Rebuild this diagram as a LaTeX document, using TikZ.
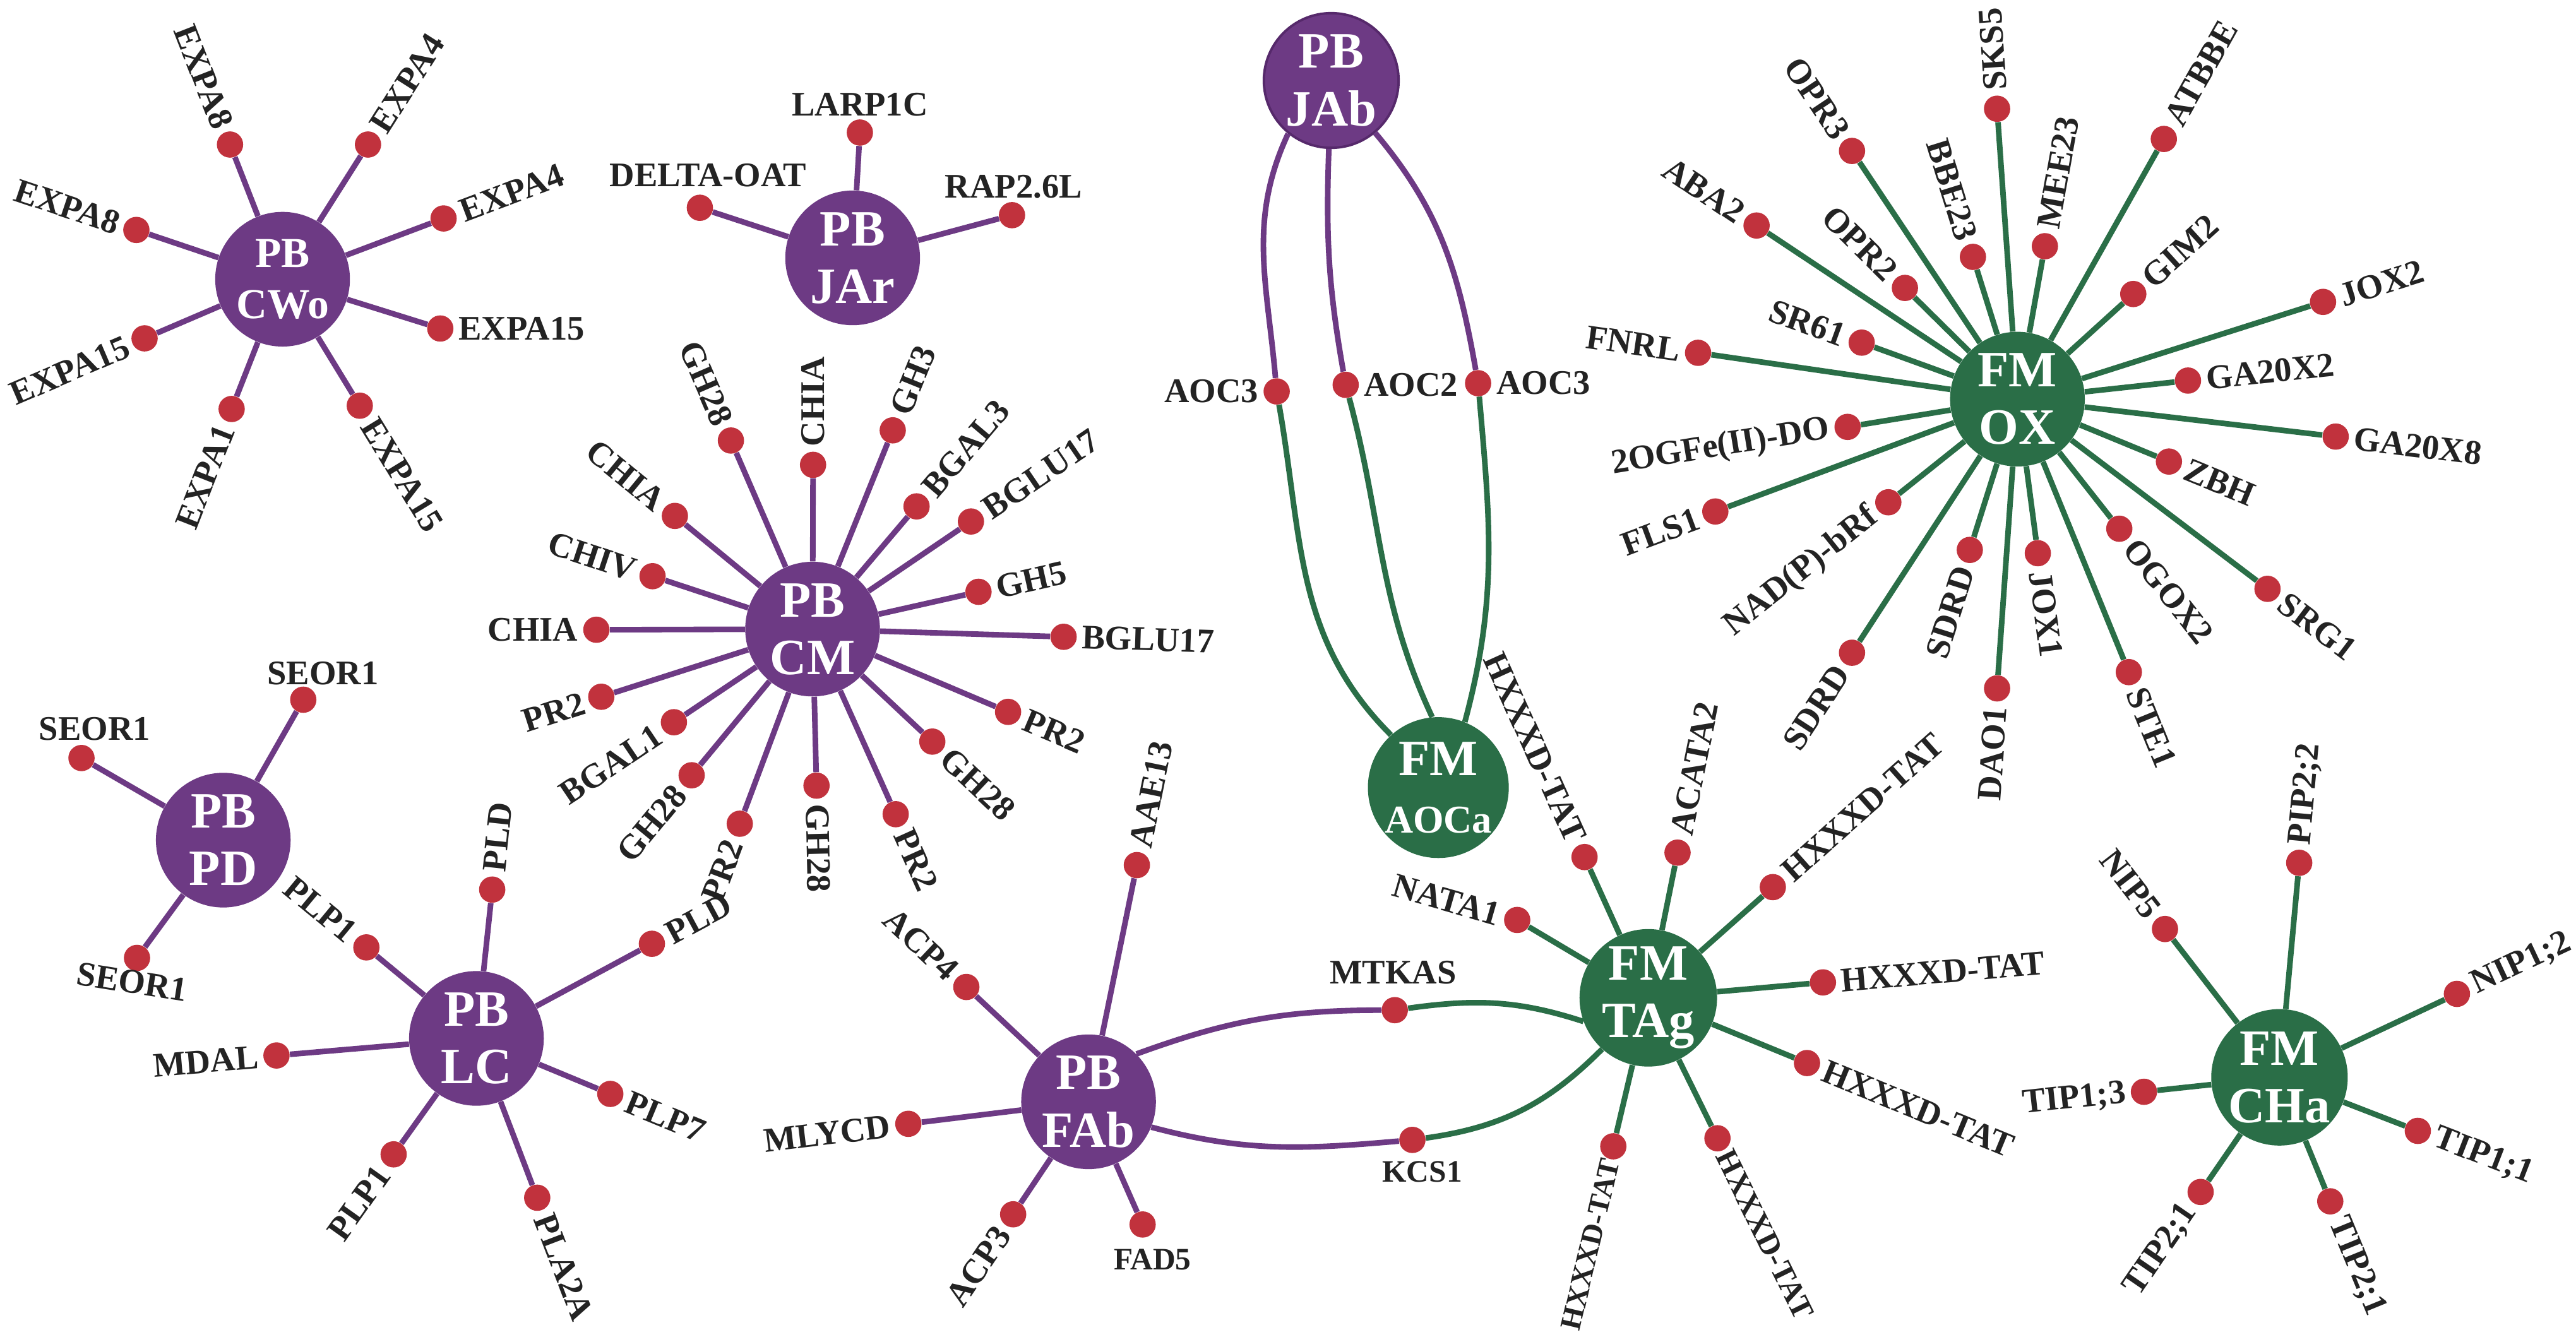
\documentclass[tikz,border=0pt]{standalone}
\usepackage{fontspec}
\setmainfont{Liberation Serif}
\usetikzlibrary{calc}
\definecolor{pbc}{HTML}{6D3A84}
\definecolor{pbdark}{HTML}{56296B}
\definecolor{fmc}{HTML}{2A6E47}
\definecolor{dotc}{HTML}{C1323D}
\definecolor{txtc}{HTML}{232323}
\tikzset{
  hub/.style={circle, minimum size=82pt, inner sep=0pt, text=white,
    font=\bfseries\fontsize{31}{35}\selectfont, align=center},
  pbhub/.style={hub, fill=pbc},
  fmhub/.style={hub, fill=fmc},
  dot/.style={circle, fill=dotc, minimum size=16pt, inner sep=0pt},
  lbl/.style={text=txtc, font=\bfseries\fontsize{21}{23}\selectfont, inner xsep=11pt, inner ysep=0pt},
  smalllbl/.style={font=\bfseries\fontsize{19}{21}\selectfont},
  pbln/.style={draw=pbc, line width=3.4pt},
  fmln/.style={draw=fmc, line width=3.4pt},
}
% radial spoke: #1 line style, #2 hub, #3 leaf name, #4 x, #5 y, #6 text
\newcommand\spk[6]{%
  \node[dot] (#3) at (#4,#5) {};
  \draw[#1] (#2) -- (#3);
  \pgfmathanglebetweenpoints{\pgfpointanchor{#2}{center}}{\pgfpointanchor{#3}{center}}%
  \let\spkang\pgfmathresult
  \pgfmathtruncatemacro\spkleft{and(\spkang>95,\spkang<269.5)}%
  \ifnum\spkleft=1
    \pgfmathsetmacro\spkrot{\spkang-180}%
    \node[lbl,rotate=\spkrot,anchor=east] (#3t) at (#3) {#6};
  \else
    \node[lbl,rotate=\spkang,anchor=west] (#3t) at (#3) {#6};
  \fi
}
% spoke with explicit label placement: #7 label options
\newcommand\spkx[7]{%
  \node[dot] (#3) at (#4,#5) {};
  \draw[#1] (#2) -- (#3);
  \node[lbl,#7] (#3t) at (#3) {#6};
}
\begin{document}
\begin{tikzpicture}[x=1pt,y=1pt]
\fill[white] (0,0) rectangle (1568,-817);
\useasboundingbox (0,0) rectangle (1568,-817);

% ---------------- PB CWo
\node[pbhub, font=\bfseries\fontsize{26}{31}\selectfont] (cwo) at (172,-170) {PB\\CWo};
\spk{pbln}{cwo}{cw1}{140}{-88}{EXPA8}
\spk{pbln}{cwo}{cw2}{224}{-88}{EXPA4}
\spk{pbln}{cwo}{cw3}{270}{-133}{EXPA4}
\spkx{pbln}{cwo}{cw4}{268}{-200}{EXPA15}{anchor=west}
\spk{pbln}{cwo}{cw5}{219}{-247}{EXPA15}
\spk{pbln}{cwo}{cw6}{141}{-249}{EXPA1}
\spk{pbln}{cwo}{cw7}{88}{-206}{EXPA15}
\spk{pbln}{cwo}{cw8}{83}{-140}{EXPA8}

% ---------------- PB JAr
\node[pbhub] (jar) at (519,-157) {PB\\JAr};
\spkx{pbln}{jar}{ja1}{523.4}{-80.7}{LARP1C}{anchor=base, yshift=10.3pt}
\spkx{pbln}{jar}{ja2}{426}{-126.5}{DELTA-OAT}{anchor=base, yshift=13.1pt, xshift=5pt}
\spkx{pbln}{jar}{ja3}{616}{-131}{RAP2.6L}{anchor=base, yshift=10.6pt, xshift=1pt}

% ---------------- PB CM
\node[pbhub] (cm) at (494.6,-383) {PB\\CM};
\spk{pbln}{cm}{cm1}{444.9}{-268.2}{GH28}
\spk{pbln}{cm}{cm2}{494.9}{-283}{CHIA}
\spk{pbln}{cm}{cm3}{543.4}{-262}{GH3}
\spk{pbln}{cm}{cm4}{557.9}{-308.3}{BGAL3}
\spk{pbln}{cm}{cm5}{591}{-317.5}{BGLU17}
\spk{pbln}{cm}{cm6}{595.6}{-360.3}{GH5}
\spk{pbln}{cm}{cm7}{647.4}{-387.7}{BGLU17}
\spk{pbln}{cm}{cm8}{613.6}{-433.4}{PR2}
\spk{pbln}{cm}{cm9}{567.5}{-451.5}{GH28}
\spk{pbln}{cm}{cm10}{545.2}{-495.7}{PR2}
\spk{pbln}{cm}{cm11}{497}{-478.3}{GH28}
\spk{pbln}{cm}{cm12}{450.3}{-501.5}{PR2}
\spk{pbln}{cm}{cm13}{421}{-472}{GH28}
\spk{pbln}{cm}{cm14}{410.2}{-439.7}{BGAL1}
\spk{pbln}{cm}{cm15}{366}{-424.2}{PR2}
\spk{pbln}{cm}{cm16}{363}{-383.4}{CHIA}
\spk{pbln}{cm}{cm17}{397.2}{-350.8}{CHIV}
\spk{pbln}{cm}{cm18}{410.8}{-314.1}{CHIA}

% ---------------- PB PD
\node[pbhub] (pd) at (135.9,-511.5) {PB\\PD};
\spkx{pbln}{pd}{pd1}{184.6}{-426}{SEOR1}{anchor=base, yshift=9.4pt, xshift=12pt}
\spkx{pbln}{pd}{pd2}{49.6}{-461.5}{SEOR1}{anchor=base, yshift=10.8pt, xshift=8pt}
\spkx{pbln}{pd}{pd3}{83.4}{-583.2}{SEOR1}{anchor=north, yshift=-7.5pt, xshift=-2pt, rotate=-9}

% ---------------- PB LC
\node[pbhub] (lc) at (290,-632.2) {PB\\LC};
\spk{pbln}{lc}{lc1}{299.6}{-541.6}{PLD}
\spk{pbln}{lc}{lc2}{223}{-576.8}{PLP1}
\spk{pbln}{lc}{lc3}{396.8}{-574.6}{PLD}
\spk{pbln}{lc}{lc4}{168.3}{-642.6}{MDAL}
\spk{pbln}{lc}{lc5}{371.5}{-666}{PLP7}
\spk{pbln}{lc}{lc6}{327}{-729.2}{PLA2A}
\spk{pbln}{lc}{lc7}{239.6}{-702.8}{PLP1}

% ---------------- PB FAb
\node[pbhub] (fab) at (662.6,-670.8) {PB\\FAb};
\spk{pbln}{fab}{fa1}{692}{-526.7}{AAE13}
\spk{pbln}{fab}{fa2}{588.2}{-600.9}{ACP4}
\spk{pbln}{fab}{fa3}{552.9}{-684.2}{MLYCD}
\spk{pbln}{fab}{fa4}{616.7}{-739.3}{ACP3}
\spkx{pbln}{fab}{fa5}{695.5}{-745.5}{FAD5}{smalllbl, anchor=north, yshift=-14.7pt, xshift=6pt}

% ---------------- FM TAg
\node[fmhub] (tag) at (1003.3,-607.5) {FM\\TAg};
\spk{fmln}{tag}{ta1}{964.5}{-521.8}{HXXXD-TAT}
\spk{fmln}{tag}{ta2}{1021.1}{-519.1}{ACATA2}
\spkx{fmln}{tag}{ta3}{923.5}{-560.1}{NATA1}{rotate=-16, anchor=east}
\spk{fmln}{tag}{ta4}{1079.1}{-540.1}{HXXXD-TAT}
\spk{fmln}{tag}{ta5}{1109.6}{-598.1}{HXXXD-TAT}
\spk{fmln}{tag}{ta6}{1099.9}{-647.2}{HXXXD-TAT}
\spkx{fmln}{tag}{ta7}{1045.4}{-693}{HXXXD-TAT}{smalllbl, rotate=-63.8, anchor=west, inner xsep=9pt}
\spkx{fmln}{tag}{ta8}{982}{-697.9}{HXXXD-TAT}{font=\bfseries\fontsize{18}{20}\selectfont, rotate=76.7, anchor=east, inner xsep=8pt}

% shared genes between FAb and TAg
\node[dot] (mtkas) at (849,-615) {};
\node[dot] (kcs) at (859.7,-694) {};
\draw[pbln] (fab.45) to[out=20,in=180] (mtkas);
\draw[fmln] (mtkas) to[out=8,in=162] (tag.200);
\draw[pbln] (fab.-22) to[out=-15,in=185] (kcs);
\draw[fmln] (kcs) to[out=8,in=225] (tag.228);
\node[lbl, anchor=base, yshift=16pt, xshift=-1pt] (mtkast) at (mtkas) {MTKAS};
\node[lbl, smalllbl, anchor=north, yshift=-13pt, xshift=6pt] (kcst) at (kcs) {KCS1};

% ---------------- PB JAb and FM AOCa
\node[pbhub, draw=pbdark, line width=1.5pt] (jab) at (810.3,-49) {PB\\JAb};
\node[fmhub] (aoca) at (875.5,-479.5) {FM\\\fontsize{24}{27}\selectfont AOCa};
\node[dot] (aoc1) at (777.1,-238.3) {};
\node[dot] (aoc2) at (819.1,-234.3) {};
\node[dot] (aoc3) at (899.7,-233.3) {};
\draw[pbln] (jab.231) to[out=245,in=95] (aoc1);
\draw[fmln] (aoc1) to[out=-80,in=135] (aoca.132);
\draw[pbln] (jab.268) to[out=-92,in=100] (aoc2);
\draw[fmln] (aoc2) to[out=-75,in=115] (aoca.95);
\draw[pbln] (jab.310) to[out=-50,in=100] (aoc3);
\draw[fmln] (aoc3) to[out=-85,in=75] (aoca.68);
\node[lbl, anchor=east] (aoc1t) at (aoc1) {AOC3};
\node[lbl, anchor=west] (aoc2t) at (aoc2) {AOC2};
\node[lbl, anchor=west] (aoc3t) at (aoc3) {AOC3};

% ---------------- FM OX
\node[fmhub] (ox) at (1228,-243) {FM\\OX};
\spk{fmln}{ox}{ox1}{1215.6}{-66.2}{SKS5}
\spk{fmln}{ox}{ox2}{1317.1}{-84.6}{ATBBE}
\spk{fmln}{ox}{ox3}{1127.3}{-91.9}{OPR3}
\spk{fmln}{ox}{ox4}{1244.7}{-149.9}{MEE23}
\spk{fmln}{ox}{ox5}{1200.9}{-156.4}{BBE23}
\spk{fmln}{ox}{ox6}{1069.2}{-137.3}{ABA2}
\spk{fmln}{ox}{ox7}{1159.5}{-175.3}{OPR2}
\spk{fmln}{ox}{ox8}{1298.5}{-179}{GIM2}
\spk{fmln}{ox}{ox9}{1414}{-183.8}{JOX2}
\spk{fmln}{ox}{ox10}{1133.2}{-208.6}{SR61}
\spk{fmln}{ox}{ox11}{1033.6}{-214.8}{FNRL}
\spk{fmln}{ox}{ox12}{1331.8}{-231.7}{GA20X2}
\spk{fmln}{ox}{ox13}{1421.7}{-265.8}{GA20X8}
\spk{fmln}{ox}{ox14}{1124.6}{-259.9}{2OGFe(II)-DO}
\spk{fmln}{ox}{ox15}{1320.2}{-281}{ZBH}
\spk{fmln}{ox}{ox16}{1044.1}{-311.4}{FLS1}
\spk{fmln}{ox}{ox17}{1149.4}{-305.8}{NAD(P)-bRf}
\spk{fmln}{ox}{ox18}{1290}{-321.9}{OGOX2}
\spk{fmln}{ox}{ox19}{1199}{-334.8}{SDRD}
\spk{fmln}{ox}{ox20}{1240.4}{-336.8}{JOX1}
\spk{fmln}{ox}{ox21}{1380.2}{-358.5}{SRG1}
\spk{fmln}{ox}{ox22}{1127.3}{-397.4}{SDRD}
\spk{fmln}{ox}{ox23}{1215.6}{-419.1}{DAO1}
\spk{fmln}{ox}{ox24}{1295.8}{-409.2}{STE1}

% ---------------- FM CHa
\node[fmhub] (cha) at (1387.5,-655.9) {FM\\CHa};
\spk{fmln}{cha}{ch1}{1399.5}{-525.3}{PIP2;2}
\spk{fmln}{cha}{ch2}{1317.8}{-565.6}{NIP5}
\spk{fmln}{cha}{ch3}{1495.5}{-605.1}{NIP1;2}
\spk{fmln}{cha}{ch4}{1305}{-664.7}{TIP1;3}
\spk{fmln}{cha}{ch5}{1471.7}{-688.5}{TIP1;1}
\spk{fmln}{cha}{ch6}{1339.5}{-725.7}{TIP2;1}
\spk{fmln}{cha}{ch7}{1418.4}{-731.4}{TIP2;1}
\end{tikzpicture}
\end{document}
